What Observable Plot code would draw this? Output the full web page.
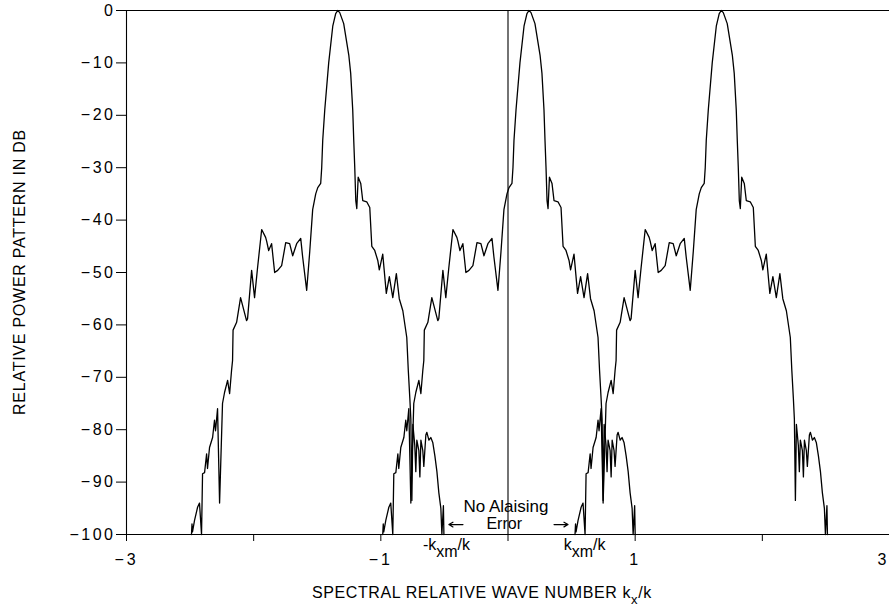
<!DOCTYPE html>
<html><head><meta charset="utf-8">
<script src="https://cdn.jsdelivr.net/npm/d3@7"></script>
<script src="https://cdn.jsdelivr.net/npm/@observablehq/plot@0.6"></script>
<style>
body{margin:0;background:#fff;}
svg text{font-family:"Liberation Sans",Arial,Helvetica,sans-serif;fill:#000;}
g[aria-label="y-axis tick label"]{letter-spacing:2.5px;}
g[aria-label="x-axis tick label"]{letter-spacing:3px;}
</style></head><body><div id="chart"></div>
<script>
// Positions (k_x/k) of the three aliased copies of the pattern
const aliasCenters = [-1.339, 0.165, 1.677];
// One copy of the power pattern: offset from its centre (k_x/k) and level (dB)
const lobeOffset = [-1.150,-1.146,-1.142,-1.126,-1.102,-1.087,-1.071,-1.063,-1.047,-1.031,-1.024,-1.008,-0.984,-0.969,-0.961,-0.945,-0.929,-0.906,-0.890,-0.866,-0.850,-0.835,-0.827,-0.823,-0.795,-0.764,-0.717,-0.709,-0.677,-0.654,-0.630,-0.598,-0.567,-0.559,-0.543,-0.520,-0.496,-0.472,-0.441,-0.409,-0.378,-0.354,-0.323,-0.291,-0.276,-0.244,-0.220,-0.197,-0.173,-0.157,-0.134,-0.126,-0.118,-0.102,-0.071,-0.039,-0.016,0,0.016,0.047,0.087,0.102,0.118,0.126,0.134,0.142,0.150,0.161,0.181,0.197,0.228,0.252,0.268,0.291,0.315,0.327,0.354,0.382,0.406,0.433,0.461,0.484,0.512,0.543,0.555,0.567,0.575,0.583,0.591,0.606,0.614,0.622,0.638,0.646,0.654,0.669,0.677,0.693,0.701,0.717,0.732,0.748,0.764,0.780,0.795,0.811,0.819,0.831,0.835];
const lobeDb = [-100,-98,-99.5,-97.3,-94.8,-94,-100,-88.4,-88.2,-84.6,-87.4,-83.4,-81.5,-78.2,-80.2,-76,-94,-75,-72.9,-70.6,-73.1,-68.7,-66.8,-61,-59.5,-54.8,-59.2,-58.8,-49.6,-54.8,-49,-41.8,-43.3,-44,-45.8,-44.5,-50,-49.6,-48.7,-44.3,-44.5,-46.8,-44.5,-43.5,-47,-53.4,-46,-38,-35,-33.8,-33,-30,-24.8,-19,-10,-3,-0.6,0,-0.4,-2.5,-8.5,-12,-19,-24.8,-30,-36.3,-37.8,-31.8,-33,-36.3,-36.5,-37.6,-45,-45.8,-47.7,-49.5,-46.5,-54,-50.8,-54.8,-50.2,-55,-57.3,-62.4,-68.7,-74,-78,-93.5,-79,-83,-88,-82,-84,-89,-82,-84,-87,-81,-80.5,-82,-81.5,-82.5,-85,-88,-92,-95,-100,-94.5,-100];
const yTicks = [0,-10,-20,-30,-40,-50,-60,-70,-80,-90,-100];
const xTicks = [-3,-2,-1,0,1,2,3];
const xTickLabels = [-3,-1,1];
const xEdgeLabel = [3];
// "No aliasing" arrows: tail and head positions (k_x/k) at level (dB)
const arrowTail = [-0.354, 0.362];
const arrowHead = [-0.465, 0.472];
const arrowLevel = -98.1;

const rows = aliasCenters.flatMap((c, i) => lobeOffset.map((o, j) => ({x: c + o, y: lobeDb[j], copy: i})));
const arrows = arrowTail.map((t, i) => ({x1: t, x2: arrowHead[i], y: arrowLevel}));
const fmt = d => d === 0 ? "0" : (d < 0 ? "\u2212" : "") + Math.abs(d);
const font = '"Liberation Sans",Arial,Helvetica,sans-serif';

const chart = Plot.plot({
  width: 889, height: 614,
  marginTop: 10, marginBottom: 80, marginLeft: 126, marginRight: 0,
  x: {domain: [-3, 3]},
  y: {domain: [-100, 0]},
  style: {fontFamily: font, fontSize: "15px", color: "#000", background: "#fff", overflow: "visible"},
  marks: [
    Plot.axisY({ticks: yTicks, tickSize: 10, tickPadding: 1, tickFormat: fmt, label: null, fontSize: 16}),
    Plot.axisX({ticks: xTicks, tickSize: 7, tickFormat: () => "", label: null}),
    Plot.axisX({ticks: xTickLabels, tickSize: 0, tickPadding: 19, tickFormat: fmt, label: null, fontSize: 16}),
    Plot.axisX({ticks: xEdgeLabel, tickSize: 0, tickPadding: 19, tickFormat: fmt, label: null, fontSize: 16, textAnchor: "end"}),
    Plot.ruleY([0, -100], {stroke: "#000", strokeWidth: 1.2}),
    Plot.ruleX([-3, 0], {stroke: "#000", strokeWidth: 1.1}),
    Plot.line(rows, {x: "x", y: "y", z: "copy", stroke: "#000", strokeWidth: 1.3}),
    Plot.arrow(arrows, {x1: "x1", x2: "x2", y1: "y", y2: "y", stroke: "#000", strokeWidth: 1.2, headLength: 6}),
    Plot.text(["No Alaising"], {x: -0.016, y: -94.6, fontSize: 17, fontFamily: font}),
    Plot.text(["Error"], {x: -0.03, y: -98.0, fontSize: 16, fontFamily: font})
  ]
});
document.getElementById("chart").appendChild(chart);

const svg = d3.select(chart);
const sx = chart.scale("x"), sy = chart.scale("y");
function kLabel(xv, yv, lead) {
  const t = svg.append("text").attr("x", sx.apply(xv)).attr("y", sy.apply(yv))
    .attr("text-anchor", "middle").attr("font-size", 16).attr("font-family", font);
  t.append("tspan").text(lead + "k");
  t.append("tspan").attr("dy", 7).text("xm");
  t.append("tspan").attr("dy", -7).text("/k");
}
kLabel(-0.48, -103.05, "-");
kLabel(0.606, -103.05, "");

const xl = svg.append("text").attr("x", 312).attr("y", 598).attr("font-size", 16)
  .attr("text-anchor", "start").attr("font-family", font).attr("letter-spacing", "0.6px");
xl.append("tspan").text("SPECTRAL RELATIVE WAVE NUMBER k");
xl.append("tspan").attr("dy", 6).attr("font-size", 13).text("x");
xl.append("tspan").attr("dy", -6).text("/k");

svg.append("text").attr("transform", "translate(25,272) rotate(-90)")
  .attr("text-anchor", "middle").attr("font-size", 16).attr("font-family", font)
  .attr("letter-spacing", "0.75px").text("RELATIVE POWER PATTERN IN DB");
</script></body></html>
